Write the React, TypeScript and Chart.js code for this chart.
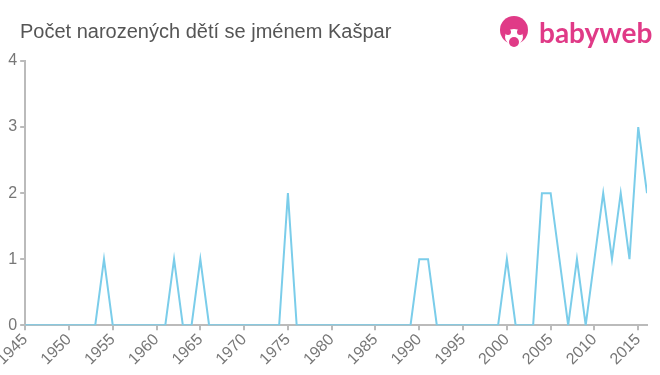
import React, { useEffect, useRef } from "react";
import { Chart, registerables } from "chart.js";

Chart.register(...registerables);

const years: number[] = [];
for (let y = 1945; y <= 2016; y++) years.push(y);

// non-zero counts by year (all other years are 0)
const nonZeroYears = [1954, 1962, 1965, 1975, 1990, 1991, 2000, 2004, 2005, 2006, 2008, 2010, 2011, 2012, 2013, 2014, 2015, 2016];
const nonZeroCounts = [1, 1, 1, 2, 1, 1, 1, 2, 2, 1, 1, 1, 2, 1, 2, 1, 3, 2];

const counts = years.map((y) => {
  const i = nonZeroYears.indexOf(y);
  return i >= 0 ? nonZeroCounts[i] : 0;
});

const xTicks = [1945, 1950, 1955, 1960, 1965, 1970, 1975, 1980, 1985, 1990, 1995, 2000, 2005, 2010, 2015];
const yTicks = [0, 1, 2, 3, 4];
const title = "Počet narozených dětí se jménem Kašpar";
const brand = "babyweb";

export default function App() {
  const ref = useRef<HTMLCanvasElement>(null);
  useEffect(() => {
    document.body.style.margin = "0";
    const ctx = ref.current!;
    const chart = new Chart(ctx, {
      type: "line",
      data: {
        datasets: [
          {
            data: years.map((y, i) => ({ x: y, y: counts[i] })),
            borderColor: "#7bcdea",
            borderWidth: 2,
            pointRadius: 0,
            tension: 0,
            fill: false,
          },
        ],
      },
      options: {
        animation: false,
        responsive: false,
        maintainAspectRatio: false,
        layout: { padding: { top: 61, left: 2, right: 13, bottom: 6 } },
        plugins: { legend: { display: false }, tooltip: { enabled: false }, title: { display: false } },
        scales: {
          x: {
            type: "linear",
            min: 1945,
            max: 2016,
            afterBuildTicks: (axis: any) => {
              axis.ticks = xTicks.map((v) => ({ value: v }));
            },
            ticks: {
              color: "#777",
              font: { family: "Liberation Sans, Arial, sans-serif", size: 16 },
              maxRotation: 45,
              minRotation: 45,
              autoSkip: false,
              padding: 0,
              callback: (v: any) => String(v),
            },
            grid: { drawOnChartArea: false, drawTicks: true, tickLength: 5, color: "#bbb", lineWidth: 2 },
            border: { color: "#bbb", width: 2 },
          },
          y: {
            min: 0,
            max: 4,
            afterBuildTicks: (axis: any) => {
              axis.ticks = yTicks.map((v) => ({ value: v }));
            },
            ticks: {
              color: "#777",
              font: { family: "Liberation Sans, Arial, sans-serif", size: 16 },
              padding: 3,
            },
            grid: { drawOnChartArea: false, drawTicks: true, tickLength: 5, color: "#bbb", lineWidth: 2 },
            border: { color: "#bbb", width: 2 },
          },
        },
      },
    });
    return () => chart.destroy();
  }, []);

  return (
    <div style={{ position: "relative", width: 660, height: 375, background: "#fff", overflow: "hidden" }}>
      <canvas ref={ref} width={660} height={375} style={{ position: "absolute", left: 0, top: 0 }} />
      <div
        style={{
          position: "absolute",
          left: 20,
          top: 20,
          fontFamily: "Liberation Sans, Arial, sans-serif",
          fontSize: 20,
          color: "#555",
          whiteSpace: "nowrap",
        }}
      >
        {title}
      </div>
      <div style={{ position: "absolute", left: 499, top: 15, display: "flex", alignItems: "center" }}>
        <svg width="32" height="34" viewBox="0 0 32 34">
          <circle cx="15" cy="15" r="14" fill="#e03a87" />
          <ellipse cx="15" cy="22" rx="9" ry="8" fill="#fff" />
          <circle cx="9" cy="17" r="3" fill="#e03a87" />
          <circle cx="21" cy="17" r="3" fill="#e03a87" />
          <circle cx="15" cy="27" r="5" fill="#e03a87" />
        </svg>
        <span
          style={{
            marginLeft: 8,
            fontFamily: "Lato, Liberation Sans, Arial, sans-serif",
            fontWeight: 700,
            fontSize: 28,
            color: "#e03a87",
            lineHeight: "30px",
            letterSpacing: 0,
          }}
        >
          {brand}
        </span>
      </div>
    </div>
  );
}
